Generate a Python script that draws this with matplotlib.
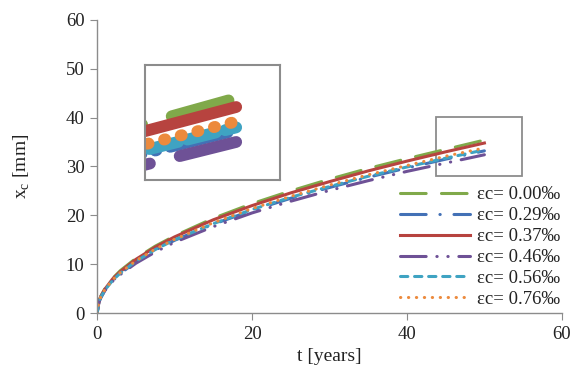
import matplotlib.pyplot as plt
from matplotlib.patches import Rectangle

plt.rcParams["font.family"] = ["Liberation Serif", "DejaVu Serif"]
plt.rcParams["mathtext.fontset"] = "custom"
plt.rcParams["mathtext.rm"] = "Liberation Serif"

# time [years]
t = [0, 0.25, 0.5, 1, 2, 3, 5, 7.5, 10, 15, 20, 25, 30, 35, 40, 45, 50]

# carbonation depth x_c [mm]
xc_000 = [0, 2.5, 3.5, 5.0, 7.1, 8.7, 11.2, 13.7, 15.8, 19.4, 22.4, 25.0, 27.4, 29.6, 31.6, 33.5, 35.4]
xc_029 = [0, 2.4, 3.3, 4.7, 6.6, 8.1, 10.5, 12.9, 14.9, 18.2, 21.0, 23.5, 25.7, 27.8, 29.7, 31.5, 33.2]
xc_037 = [0, 2.5, 3.5, 4.9, 7.0, 8.5, 11.0, 13.5, 15.6, 19.1, 22.0, 24.6, 26.9, 29.1, 31.1, 33.0, 34.8]
xc_046 = [0, 2.3, 3.2, 4.6, 6.5, 7.9, 10.2, 12.5, 14.5, 17.7, 20.5, 22.9, 25.1, 27.1, 29.0, 30.7, 32.4]
xc_056 = [0, 2.4, 3.3, 4.7, 6.7, 8.2, 10.6, 13.0, 15.0, 18.3, 21.2, 23.7, 25.9, 28.0, 29.9, 31.7, 33.4]
xc_076 = [0, 2.4, 3.4, 4.8, 6.8, 8.3, 10.7, 13.1, 15.1, 18.5, 21.4, 23.9, 26.2, 28.3, 30.2, 32.1, 33.8]

labels = ["εc= 0.00‰", "εc= 0.29‰", "εc= 0.37‰", "εc= 0.46‰", "εc= 0.56‰", "εc= 0.76‰"]
colors = ["#80A94A", "#4371B6", "#B7433F", "#6E5196", "#3FA3C2", "#EC8A3D"]
values = [xc_000, xc_029, xc_037, xc_046, xc_056, xc_076]

# dash patterns for the main plot and for the magnified view
styles = [
    (0, (8.4, 5)),
    (0, (8.4, 4.5, 0.1, 4.5)),
    "-",
    (0, (8.4, 3.5, 0.1, 3.5, 0.1, 3.5)),
    (0, (2.4, 2.2)),
    (0, (0.1, 2.5)),
]
zoom_styles = [
    (0, (5.0, 2.6)),
    (0, (5.0, 1.2, 0.1, 1.2)),
    "-",
    (7, (5.0, 2.6)),
    (0, (2.5, 0.8)),
    (0, (0.1, 1.35)),
]

GRAY = "#8C8C8C"

fig = plt.figure(figsize=(5.71, 3.81), dpi=100)
ax = fig.add_axes([0.170, 0.178, 0.814, 0.770])

for y, color, ls, lab in zip(values, colors, styles, labels):
    ax.plot(t, y, color=color, lw=2.2, linestyle=ls, label=lab,
            dash_capstyle="round")

ax.set_xlim(0, 60)
ax.set_ylim(0, 60)
ax.set_xticks([0, 20, 40, 60])
ax.set_yticks(range(0, 61, 10))
for side in ["top", "right"]:
    ax.spines[side].set_visible(False)
for side in ["left", "bottom"]:
    ax.spines[side].set_color(GRAY)
    ax.spines[side].set_linewidth(1.0)
ax.tick_params(direction="out", length=5, color=GRAY, labelsize=13.5,
               labelcolor="#222222", pad=4)
ax.set_xlabel("t [years]", fontsize=14, color="#222222", labelpad=4)
ax.set_ylabel("x$_\\mathregular{c}$ [mm]", fontsize=14, color="#222222", labelpad=24)

# marked zoom region
ax.add_patch(Rectangle((43.7, 28.1), 11.1, 12.1, fill=False, edgecolor=GRAY, lw=1.3))

leg = ax.legend(loc="upper left", bbox_to_anchor=(0.636, 0.458), frameon=False,
                fontsize=13.5, handlelength=3.75, handletextpad=0.35,
                labelspacing=0.2, borderaxespad=0)
for txt in leg.get_texts():
    txt.set_color("#222222")

# magnified view
ins = fig.add_axes([0.254, 0.528, 0.236, 0.302])
for y, color, ls in zip(values, colors, zoom_styles):
    ins.plot(t, y, color=color, lw=8.5, linestyle=ls, dash_capstyle="round",
             solid_capstyle="round")
ins.set_xlim(45.4, 52.2)
ins.set_ylim(29.8, 37.7)
ins.set_xticks([])
ins.set_yticks([])
for s in ins.spines.values():
    s.set_color(GRAY)
    s.set_linewidth(1.5)

fig.savefig("out.png", dpi=100)
